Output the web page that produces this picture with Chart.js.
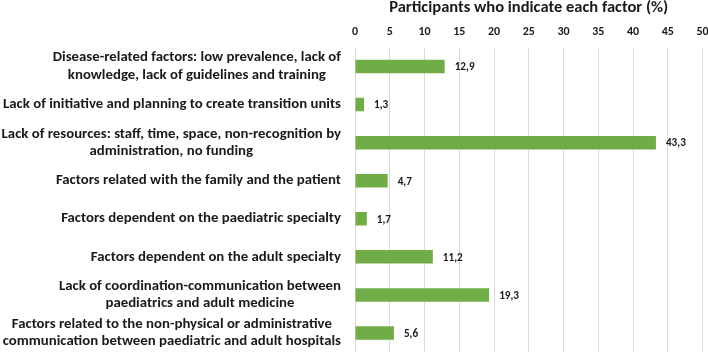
<!DOCTYPE html>
<html>
<head>
<meta charset="utf-8">
<script src="https://cdn.jsdelivr.net/npm/chart.js@4/dist/chart.umd.min.js"></script>
<style>
  html, body { margin: 0; padding: 0; background: #fff; }
  #wrap { width: 708px; height: 353px; }
</style>
</head>
<body>
<div id="wrap"><canvas id="factorsChart"></canvas></div>
<script>
// Categories (multi-line labels as arrays)
const factorLabels = [
    ['Disease-related factors: low prevalence, lack of', 'knowledge, lack of guidelines and training'],
    ['Lack of initiative and planning to create transition units'],
    ['Lack of resources: staff, time, space, non-recognition by', 'administration, no funding'],
    ['Factors related with the family and the patient'],
    ['Factors dependent on the paediatric specialty'],
    ['Factors dependent on the adult specialty'],
    ['Lack of coordination-communication between', 'paediatrics and adult medicine'],
    ['Factors related to the non-physical or administrative', 'communication between paediatric and adult hospitals']
];

// Percentage of participants per factor
const factorValues = [12.9, 1.3, 43.3, 4.7, 1.7, 11.2, 19.3, 5.6];

// Axis settings
const axisMin = 0;
const axisMax = 50;
const axisStep = 5;
const axisTitle = 'Participants who indicate each factor (%)';

const fontFamily = "Carlito, 'Open Sans', sans-serif";
const textColor = '#1a1a1a';

// Format numbers the way the original does (comma decimal)
function formatValue(v) {
    return v.toFixed(1).replace('.', ',');
}

// Draws the category labels: block right-aligned, lines centred in the block
const categoryLabelPlugin = {
    id: 'categoryLabels',
    afterDraw(chart) {
        const ctx = chart.ctx;
        const yScale = chart.scales.y;
        ctx.save();
        ctx.font = 'bold 14.8px ' + fontFamily;
        ctx.fillStyle = textColor;
        ctx.textAlign = 'center';
        ctx.textBaseline = 'middle';
        const lineHeight = 17.5;
        const right = yScale.right - 14;
        factorLabels.forEach((lines, i) => {
            const yMid = yScale.getPixelForValue(i);
            const widest = Math.max(...lines.map(l => ctx.measureText(l).width));
            const cx = right - widest / 2;
            const top = yMid - (lines.length - 1) * lineHeight / 2;
            lines.forEach((line, j) => {
                ctx.fillText(line, cx, top + j * lineHeight);
            });
        });
        ctx.restore();
    }
};

// Draws the value next to the end of each bar
const valueLabelPlugin = {
    id: 'valueLabels',
    afterDatasetsDraw(chart) {
        const ctx = chart.ctx;
        const meta = chart.getDatasetMeta(0);
        ctx.save();
        ctx.font = 'bold 11.2px ' + fontFamily;
        ctx.fillStyle = textColor;
        ctx.textAlign = 'left';
        ctx.textBaseline = 'middle';
        meta.data.forEach((bar, i) => {
            ctx.fillText(formatValue(factorValues[i]), bar.x + 10, bar.y + 1);
        });
        ctx.restore();
    }
};

const ctx = document.getElementById('factorsChart').getContext('2d');
new Chart(ctx, {
    type: 'bar',
    data: {
        labels: factorLabels.map(l => l.join(' ')),
        datasets: [{
            data: factorValues,
            backgroundColor: '#70ad47',
            borderWidth: 0,
            barPercentage: 0.355,
            categoryPercentage: 1.0
        }]
    },
    options: {
        indexAxis: 'y',
        responsive: true,
        maintainAspectRatio: false,
        animation: false,
        layout: { padding: { top: 0, bottom: 1, left: 0, right: 2 } },
        plugins: {
            legend: { display: false },
            tooltip: { enabled: false }
        },
        scales: {
            x: {
                position: 'top',
                min: axisMin,
                max: axisMax,
                ticks: {
                    stepSize: axisStep,
                    color: textColor,
                    padding: 9.5,
                    font: { family: fontFamily, size: 12, weight: 'bold', lineHeight: 1.0 }
                },
                grid: { color: '#d9d9d9', lineWidth: 1, drawTicks: false },
                border: { display: false },
                title: {
                    display: true,
                    text: axisTitle,
                    color: textColor,
                    padding: { top: 0, bottom: 0 },
                    font: { family: fontFamily, size: 16.5, weight: 'bold', lineHeight: 1.0 }
                },
                afterFit(scale) {
                    // keep the last tick at the reference's right edge
                    scale.paddingRight = 5.5;
                }
            },
            y: {
                ticks: { display: false },
                grid: { display: false },
                border: { display: false },
                afterFit(scale) {
                    scale.width = 355;
                }
            }
        }
    },
    plugins: [categoryLabelPlugin, valueLabelPlugin]
});
</script>
</body>
</html>
